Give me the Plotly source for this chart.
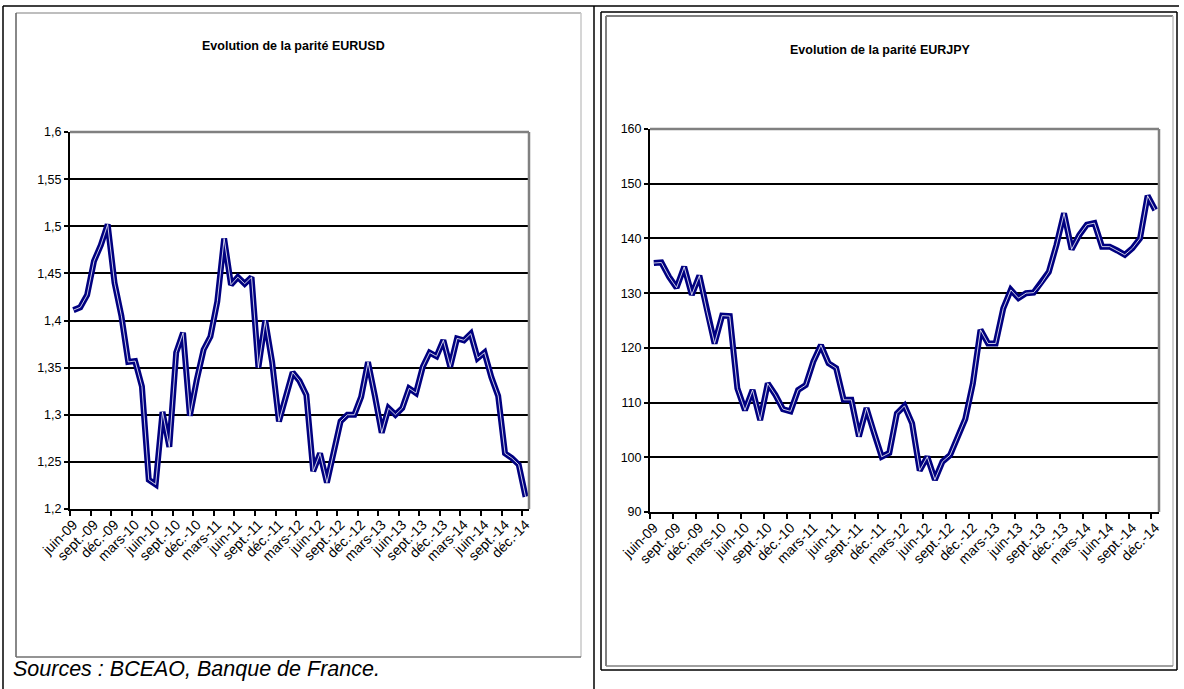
import plotly.graph_objects as go

# ---------------- data ----------------
month_abbr = ["janv.", "févr.", "mars", "avr.", "mai", "juin",
              "juil.", "août", "sept.", "oct.", "nov.", "déc."]
# monthly categories juin-09 .. déc.-14 (67 months)
categories = []
for k in range(67):
    m = (5 + k) % 12
    y = 9 + (5 + k) // 12
    categories.append(f"{month_abbr[m]}-{y:02d}")

eurusd = [1.411, 1.414, 1.427, 1.463, 1.480, 1.502, 1.440, 1.405, 1.356, 1.357,
          1.330, 1.231, 1.226, 1.303, 1.266, 1.366, 1.387, 1.299, 1.337, 1.369,
          1.383, 1.420, 1.487, 1.438, 1.446, 1.439, 1.446, 1.350, 1.400, 1.356,
          1.293, 1.318, 1.345, 1.336, 1.321, 1.240, 1.259, 1.228, 1.262, 1.293,
          1.300, 1.300, 1.319, 1.356, 1.320, 1.281, 1.307, 1.300, 1.307, 1.328,
          1.323, 1.351, 1.366, 1.362, 1.379, 1.351, 1.381, 1.379, 1.386, 1.360,
          1.366, 1.340, 1.320, 1.259, 1.254, 1.247, 1.213]

eurjpy = [135.5, 135.6, 133.0, 131.0, 134.8, 129.7, 133.2, 126.6, 120.8, 125.9,
          125.8, 112.6, 108.6, 112.3, 106.8, 113.5, 111.4, 108.8, 108.4, 112.3,
          113.2, 117.5, 120.5, 117.2, 116.3, 110.5, 110.5, 103.8, 109.0, 104.4,
          100.1, 100.8, 108.0, 109.4, 106.2, 97.6, 100.1, 95.9, 99.2, 100.4,
          103.8, 107.0, 113.5, 123.3, 120.8, 120.8, 127.2, 130.6, 129.1, 130.0,
          130.1, 131.8, 133.9, 138.8, 144.6, 138.0, 140.6, 142.5, 142.8, 138.5,
          138.5, 137.8, 137.0, 138.2, 140.0, 147.8, 145.2]

usd_ticks = [1.2, 1.25, 1.3, 1.35, 1.4, 1.45, 1.5, 1.55, 1.6]
usd_ticktext = ["1,2", "1,25", "1,3", "1,35", "1,4", "1,45", "1,5", "1,55", "1,6"]
jpy_ticks = [90, 100, 110, 120, 130, 140, 150, 160]
jpy_ticktext = ["90", "100", "110", "120", "130", "140", "150", "160"]

title_usd = "Evolution de la parité EURUSD"
title_jpy = "Evolution de la parité EURJPY"
source_text = "Sources : BCEAO, Banque de France."

# ---------------- layout helpers ----------------
W, H = 1184, 689
def px(x):
    return x / W
def py(y):
    return 1 - y / H

FONT = "Liberation Sans, Arial, sans-serif"
NAVY = "#000080"

xidx = list(range(len(categories)))
label_idx = xidx[::3]
label_txt = [categories[i] for i in label_idx]
boundaries = [i - 0.5 for i in label_idx]

fig = go.Figure()

for series, xa, ya in [(eurusd, "x", "y"), (eurjpy, "x2", "y2")]:
    fig.add_trace(go.Scatter(x=xidx, y=series, mode="lines", xaxis=xa, yaxis=ya,
                             line=dict(color=NAVY, width=6), hoverinfo="skip",
                             showlegend=False))
    fig.add_trace(go.Scatter(x=xidx, y=series, mode="lines", xaxis=xa, yaxis=ya,
                             line=dict(color="white", width=0.8), hoverinfo="skip",
                             showlegend=False))

def xaxis_cfg(domain):
    return dict(domain=domain, range=[-0.5, len(categories) - 0.5],
                tickmode="array", tickvals=label_idx, ticktext=label_txt,
                tickangle=-45, ticks="", showgrid=False, zeroline=False,
                showline=True, linecolor="black", linewidth=2, automargin=False,
                tickfont=dict(family=FONT, size=14, color="black"),
                minor=dict(tickmode="array", tickvals=boundaries, ticks="outside",
                           ticklen=5, tickwidth=1.5, tickcolor="black", showgrid=False),
                fixedrange=True)

def yaxis_cfg(domain, rng, tv, tt, anchor):
    return dict(domain=domain, range=rng, tickmode="array", tickvals=tv, ticktext=tt,
                ticks="outside", ticklen=4, tickwidth=1.5, tickcolor="black",
                showgrid=True, gridcolor="black", gridwidth=1.5, zeroline=False,
                showline=True, linecolor="black", linewidth=2, anchor=anchor,
                automargin=False,
                tickfont=dict(family=FONT, size=12.5, color="black"),
                fixedrange=True)

fig.update_layout(
    template="none",
    width=W, height=H, autosize=False,
    margin=dict(l=0, r=0, t=0, b=0, pad=0),
    paper_bgcolor="white", plot_bgcolor="white",
    xaxis=dict(xaxis_cfg([px(70), px(529)]), anchor="y"),
    yaxis=yaxis_cfg([py(509), py(132)], [1.2, 1.6], usd_ticks, usd_ticktext, "x"),
    xaxis2=dict(xaxis_cfg([px(650), px(1159)]), anchor="y2"),
    yaxis2=yaxis_cfg([py(512), py(129)], [90, 160], jpy_ticks, jpy_ticktext, "x2"),
)

shapes = []
def line(x0, y0, x1, y1, color, width):
    shapes.append(dict(type="line", xref="paper", yref="paper",
                       x0=px(x0), y0=py(y0), x1=px(x1), y1=py(y1),
                       line=dict(color=color, width=width), layer="above"))

# outer table lines
line(3, 6, 1179, 6, "black", 1.5)
line(3, 6, 3, 689, "black", 1.5)
line(594, 6, 594, 689, "black", 1.5)
# right panel black frame
line(601, 12, 1177, 12, "black", 1.5)
line(601, 12, 601, 670, "black", 1.5)
line(1177, 12, 1177, 670, "black", 1.5)
line(601, 670, 1177, 670, "black", 1.5)
# left chart area (gray)
line(16, 13, 581, 13, "#a8a8a8", 1.5)
line(16, 13, 16, 657, "#606060", 1.5)
line(581, 13, 581, 657, "#c8c8c8", 1.5)
line(16, 657, 581, 657, "#707070", 1.5)
# right chart area (gray)
line(606, 16, 1173, 16, "#808080", 2)
line(606, 16, 606, 666, "#808080", 2)
line(1173, 16, 1173, 666, "#c0c0c0", 1.5)
line(606, 666, 1173, 666, "#808080", 1.5)

# plot-area top/right gray borders
for xd, yd in [("x domain", "y domain"), ("x2 domain", "y2 domain")]:
    shapes.append(dict(type="line", xref=xd, yref=yd, x0=0, y0=1, x1=1, y1=1,
                       line=dict(color="#808080", width=2.5), layer="above"))
    shapes.append(dict(type="line", xref=xd, yref=yd, x0=1, y0=0, x1=1, y1=1,
                       line=dict(color="#808080", width=2.5), layer="above"))

fig.update_layout(shapes=shapes)

fig.add_annotation(text=f"<b>{title_usd}</b>", xref="paper", yref="paper",
                   x=px(293), y=py(46), showarrow=False, xanchor="center", yanchor="middle",
                   font=dict(family=FONT, size=12.5, color="black"))
fig.add_annotation(text=f"<b>{title_jpy}</b>", xref="paper", yref="paper",
                   x=px(880), y=py(50), showarrow=False, xanchor="center", yanchor="middle",
                   font=dict(family=FONT, size=12.5, color="black"))
fig.add_annotation(text=f"<i>{source_text}</i>", xref="paper", yref="paper",
                   x=px(11), y=py(669), showarrow=False, xanchor="left", yanchor="middle",
                   font=dict(family=FONT, size=21.5, color="black"))

fig.write_html("out.html", config={"displayModeBar": False},
               post_script="document.body.style.margin='0';document.body.style.overflow='hidden';")
